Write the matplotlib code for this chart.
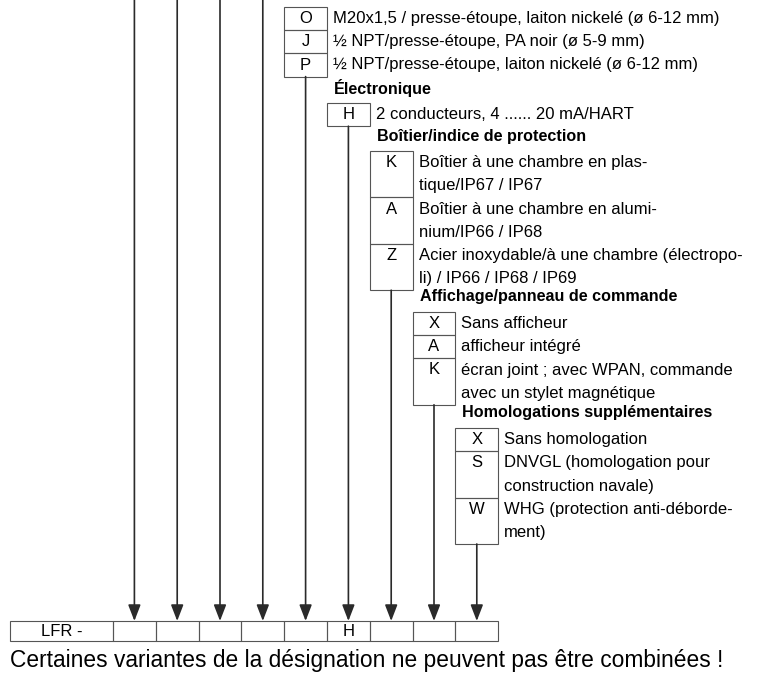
import matplotlib.pyplot as plt
from matplotlib.patches import Rectangle

# type code data
bottom_cells = ['LFR -', '', '', '', '', '', 'H', '', '', '']

cable_codes = ['O', 'J', 'P']
cable_texts = [
    ['M20x1,5 / presse-étoupe, laiton nickelé (ø 6-12 mm)'],
    ['½ NPT/presse-étoupe, PA noir (ø 5-9 mm)'],
    ['½ NPT/presse-étoupe, laiton nickelé (ø 6-12 mm)'],
]

electronics_header = 'Électronique'
electronics_codes = ['H']
electronics_texts = [['2 conducteurs, 4 ...... 20 mA/HART']]

housing_header = 'Boîtier/indice de protection'
housing_codes = ['K', 'A', 'Z']
housing_texts = [
    ['Boîtier à une chambre en plas-', 'tique/IP67 / IP67'],
    ['Boîtier à une chambre en alumi-', 'nium/IP66 / IP68'],
    ['Acier inoxydable/à une chambre (électropo-', 'li) / IP66 / IP68 / IP69'],
]

display_header = 'Affichage/panneau de commande'
display_codes = ['X', 'A', 'K']
display_texts = [
    ['Sans afficheur'],
    ['afficheur intégré'],
    ['écran joint ; avec WPAN, commande', 'avec un stylet magnétique'],
]

approval_header = 'Homologations supplémentaires'
approval_codes = ['X', 'S', 'W']
approval_texts = [
    ['Sans homologation'],
    ['DNVGL (homologation pour', 'construction navale)'],
    ['WHG (protection anti-déborde-', 'ment)'],
]

note = 'Certaines variantes de la désignation ne peuvent pas être combinées !'

# layout (pixels, y grows downward)
W, H = 765, 677
LINE = 23.2
CELL_W = 42.8
FIRST_W = 103
ROW_TOP, ROW_BOT = 621, 641
FONT = 'Liberation Sans'
FS = 12.0
FS_BOLD = 11.6
EDGE = '#555555'
LINE_COL = '#2a2a2a'

fig = plt.figure(figsize=(W / 100, H / 100), dpi=100)
ax = fig.add_axes([0, 0, 1, 1])
ax.set_xlim(0, W)
ax.set_ylim(H, 0)
ax.axis('off')

# bottom row of type code cells
x0 = 10
cell_centers = []
for i, label in enumerate(bottom_cells):
    w = FIRST_W if i == 0 else CELL_W
    ax.add_patch(Rectangle((x0, ROW_TOP), w, ROW_BOT - ROW_TOP, fill=False,
                           edgecolor=EDGE, lw=0.8))
    ax.text(x0 + w / 2, (ROW_TOP + ROW_BOT) / 2 + 1, label, ha='center',
            va='center', fontsize=FS, family=FONT)
    if i > 0:
        cell_centers.append(x0 + w / 2)
    x0 += w


def draw_group(col, top, codes, texts, header=None, header_y=None):
    left = cell_centers[col] - CELL_W / 2
    if header:
        ax.text(left + 7, header_y, header, ha='left', va='center',
                fontsize=FS_BOLD, family=FONT, fontweight='bold')
    y = top
    for code, lines in zip(codes, texts):
        h = LINE * len(lines)
        ax.add_patch(Rectangle((left, y), CELL_W, h, fill=False,
                               edgecolor=EDGE, lw=0.8))
        ax.text(left + CELL_W / 2, y + LINE / 2, code, ha='center',
                va='center', fontsize=FS, family=FONT)
        for k, line in enumerate(lines):
            ax.text(left + CELL_W + 6, y + LINE / 2 + k * LINE, line,
                    ha='left', va='center', fontsize=FS, family=FONT)
        y += h
    return y


starts = {}
starts[4] = draw_group(4, 7, cable_codes, cable_texts)
starts[5] = draw_group(5, 103, electronics_codes, electronics_texts,
                       electronics_header, 88)
starts[6] = draw_group(6, 151, housing_codes, housing_texts,
                       housing_header, 136)
starts[7] = draw_group(7, 312, display_codes, display_texts,
                       display_header, 297)
starts[8] = draw_group(8, 428, approval_codes, approval_texts,
                       approval_header, 413)

# connector lines with arrows into the bottom row
for i, xc in enumerate(cell_centers):
    y_start = starts.get(i, 0)
    ax.annotate('', xy=(xc, ROW_TOP), xytext=(xc, y_start),
                arrowprops=dict(arrowstyle='-|>,head_length=0.7,head_width=0.27',
                                mutation_scale=14, color=LINE_COL, lw=1.2,
                                shrinkA=0, shrinkB=0))

ax.text(10, 660, note, ha='left', va='center', fontsize=16.4, family=FONT)

fig.savefig('out.png', dpi=100)
